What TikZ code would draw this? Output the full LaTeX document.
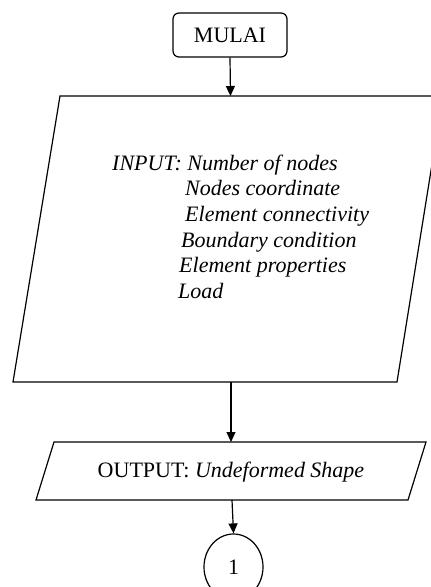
\documentclass[tikz,border=0pt]{standalone}
\usepackage{fontspec}
\setmainfont{Liberation Serif}
\usetikzlibrary{arrows.meta,shapes.geometric}
\newcommand{\flowfont}{\fontsize{22}{26}\selectfont}
\tikzset{
  outline/.style={draw=black, line width=1.2pt},
  bigtext/.style={font=\flowfont},
  startbox/.style={outline, bigtext, rounded corners=6pt, minimum width=114pt, minimum height=44pt, inner sep=0pt},
  flowarrow/.style={line width=1.2pt, -{Triangle[length=10pt,width=9pt]}},
  connector/.style={outline, bigtext, ellipse, minimum width=59pt, minimum height=66pt, inner sep=0pt},
  itemline/.style={anchor=base west, inner sep=0pt, font=\flowfont\itshape},
}
\begin{document}
\begin{tikzpicture}[x=1pt, y=-1pt]
  \useasboundingbox (0,0) rectangle (431,587);
  \clip (0,0) rectangle (431,587);

  % start terminal
  \node[startbox] (mulai) at (230,35) {MULAI};

  % input parallelogram (runs past the right edge)
  \draw[outline] (60,96) -- (443,96) -- (397,382) -- (13,382) -- cycle;
  \coordinate (inTop) at (230.5,96);
  \coordinate (inBot) at (231,382);

  \node[itemline] (in1) at (112,170) {INPUT: Number of nodes};
  \node[itemline] (in2) at (185,195) {Nodes coordinate};
  \node[itemline] (in3) at (185,221) {Element connectivity};
  \node[itemline] (in4) at (181,247) {Boundary condition};
  \node[itemline] (in5) at (179,272) {Element properties};
  \node[itemline] (in6) at (178,298) {Load};

  % output parallelogram
  \draw[outline] (54,442) -- (426,442) -- (408,500) -- (36,500) -- cycle;
  \coordinate (outTop) at (231,442);
  \coordinate (outBot) at (232,500);
  \node[bigtext] (out) at (231,472) {OUTPUT: \textit{Undeformed Shape}};

  % off-page connector
  \node[connector] (c1) at (233.5,567) {1};

  % flow lines
  \draw[flowarrow] (mulai.south) -- (inTop);
  \draw[flowarrow] (inBot) -- (outTop);
  \draw[flowarrow] (outBot) -- (c1.north);
\end{tikzpicture}
\end{document}
